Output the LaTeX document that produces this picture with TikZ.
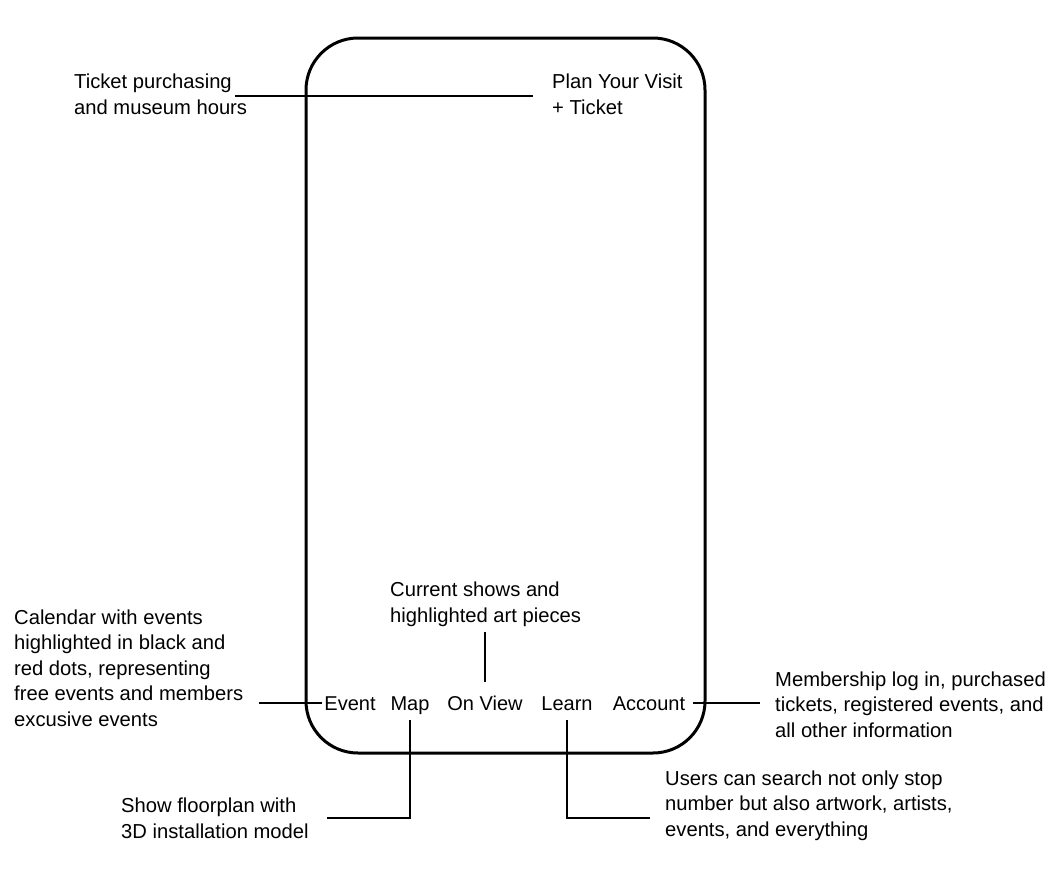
\documentclass[tikz,border=0pt]{standalone}
\usepackage{fontspec}
\setmainfont{Liberation Sans}
\begin{document}
\begin{tikzpicture}[x=1pt,y=-1pt,
  note/.style={anchor=base west, align=left, inner sep=0pt,
    font=\fontsize{20.2}{25.4}\selectfont},
  tab/.style={anchor=base, inner sep=0pt, text depth=5pt,
    font=\fontsize{20}{25}\selectfont},
  lead/.style={line width=1.4pt},
  phone/.style={line width=3pt, rounded corners=52pt}]
\useasboundingbox (0,0) rectangle (1058,868);

% phone outline
\draw[phone] (306,38) rectangle (705,753);

% tab bar labels
\node[tab] (event)   at (350,710) {Event};
\node[tab] (map)     at (410,710) {Map};
\node[tab] (onview)  at (485,710) {On View};
\node[tab] (learn)   at (567,710) {Learn};
\node[tab] (account) at (649,710) {Account};

% header label (anchored at the baseline of its last line)
\node[note] (plan) at (552,114) {Plan Your Visit\\+ Ticket};

% annotations
\node[note] (ticket)   at (74,114)  {Ticket purchasing\\and museum hours};
\node[note] (current)  at (390,622) {Current shows and\\highlighted art pieces};
\node[note] (calendar) at (14,726)  {Calendar with events\\highlighted in black and\\red dots, representing\\free events and members\\excusive events};
\node[note] (member)   at (775,737) {Membership log in, purchased\\tickets, registered events, and\\all other information};
\node[note] (users)    at (665,836) {Users can search not only stop\\number but also artwork, artists,\\events, and everything};
\node[note] (floor)    at (121,838) {Show floorplan with\\3D installation model};

% leader lines
\coordinate (tkA) at (235,96);
\coordinate (tkB) at (533,96);
\draw[lead] (tkA) -- (tkB);

\coordinate (evEnd) at (259,703);
\draw[lead] (evEnd) -- ([xshift=-2pt]evEnd -| event.west);

\coordinate (acEnd) at (760,703);
\draw[lead] ([xshift=8pt]acEnd -| account.east) -- (acEnd);

\draw[lead] ([yshift=13pt]onview.north) -- ([yshift=-6pt]onview.north |- current.south);

\coordinate (mapCorner) at (410,818);
\coordinate (mapEnd) at (327,818);
\draw[lead] ([yshift=-5pt]map.south) -- (mapCorner) -- (mapEnd);

\coordinate (lnCorner) at (567,818);
\coordinate (lnEnd) at (650,818);
\draw[lead] ([yshift=-5pt]learn.south) -- (lnCorner) -- (lnEnd);
\end{tikzpicture}
\end{document}
